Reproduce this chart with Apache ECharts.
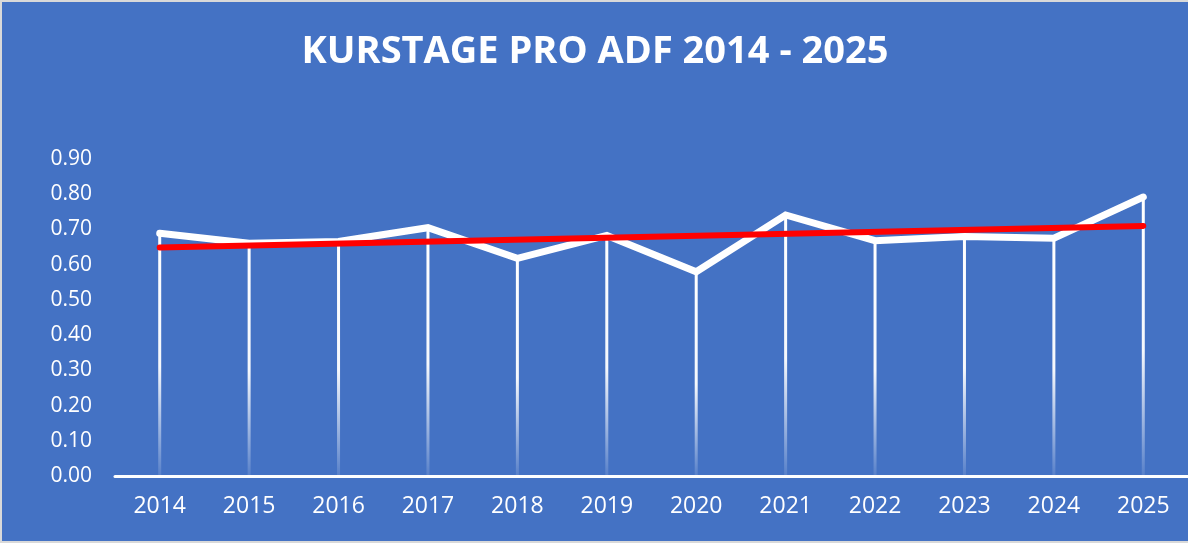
<!DOCTYPE html>
<html>
<head>
<meta charset="utf-8">
<script src="https://cdn.jsdelivr.net/npm/echarts@6/dist/echarts.min.js"></script>
<style>
  html, body { margin: 0; padding: 0; background: #d9d9d9; }
  #chart { position: absolute; left: 2px; top: 2px; width: 1186px; height: 539px; }
</style>
</head>
<body>
<div id="chart"></div>
<script>
// Jahre (x-Achse)
const years = ['2014', '2015', '2016', '2017', '2018', '2019', '2020', '2021', '2022', '2023', '2024', '2025'];
// Kurstage pro ADF
const kurstage = [0.689, 0.661, 0.666, 0.705, 0.618, 0.683, 0.580, 0.741, 0.668, 0.680, 0.675, 0.792];
// Trendlinie: Anfangs- und Endwert
const trendStart = 0.649;
const trendEnd = 0.710;
const yTicks = [0, 0.1, 0.2, 0.3, 0.4, 0.5, 0.6, 0.7, 0.8, 0.9];

const trend = years.map((y, i) => (i === 0 ? trendStart : i === years.length - 1 ? trendEnd : null));

const chart = echarts.init(document.getElementById('chart'));

const option = {
  backgroundColor: '#4472C4',
  animation: false,
  textStyle: { fontFamily: 'Open Sans' },
  title: {
    text: 'KURSTAGE PRO ADF 2014 - 2025',
    left: 'center',
    top: 26,
    textStyle: {
      color: '#fff',
      fontSize: 38,
      fontWeight: 'bold',
      fontFamily: 'Open Sans'
    }
  },
  grid: { left: 113, right: 0, top: 157, bottom: 65 },
  xAxis: {
    type: 'category',
    data: years,
    boundaryGap: true,
    axisLine: { lineStyle: { color: '#fff', width: 3 } },
    axisTick: { show: false },
    axisLabel: { color: '#fff', fontSize: 23, margin: 19 }
  },
  yAxis: {
    type: 'value',
    min: yTicks[0],
    max: yTicks[yTicks.length - 1],
    interval: 0.1,
    splitLine: { show: false },
    axisLine: { show: false },
    axisTick: { show: false },
    axisLabel: {
      color: '#fff',
      fontSize: 21,
      margin: 23,
      formatter: (v) => v.toFixed(2)
    }
  },
  series: [
    {
      // senkrechte Linien zum Punkt
      type: 'bar',
      data: kurstage,
      barWidth: 3,
      silent: true,
      itemStyle: {
        color: new echarts.graphic.LinearGradient(0, 0, 0, 1, [
          { offset: 0, color: 'rgba(255,255,255,1)' },
          { offset: 0.55, color: 'rgba(255,255,255,0.95)' },
          { offset: 1, color: 'rgba(255,255,255,0.1)' }
        ])
      }
    },
    {
      type: 'line',
      data: kurstage,
      showSymbol: false,
      z: 3,
      lineStyle: { color: '#fff', width: 7, cap: 'round', join: 'miter' }
    },
    {
      type: 'line',
      data: trend,
      connectNulls: true,
      showSymbol: false,
      z: 4,
      lineStyle: { color: '#ff0000', width: 6, cap: 'round' }
    }
  ]
};

chart.setOption(option);
</script>
</body>
</html>
